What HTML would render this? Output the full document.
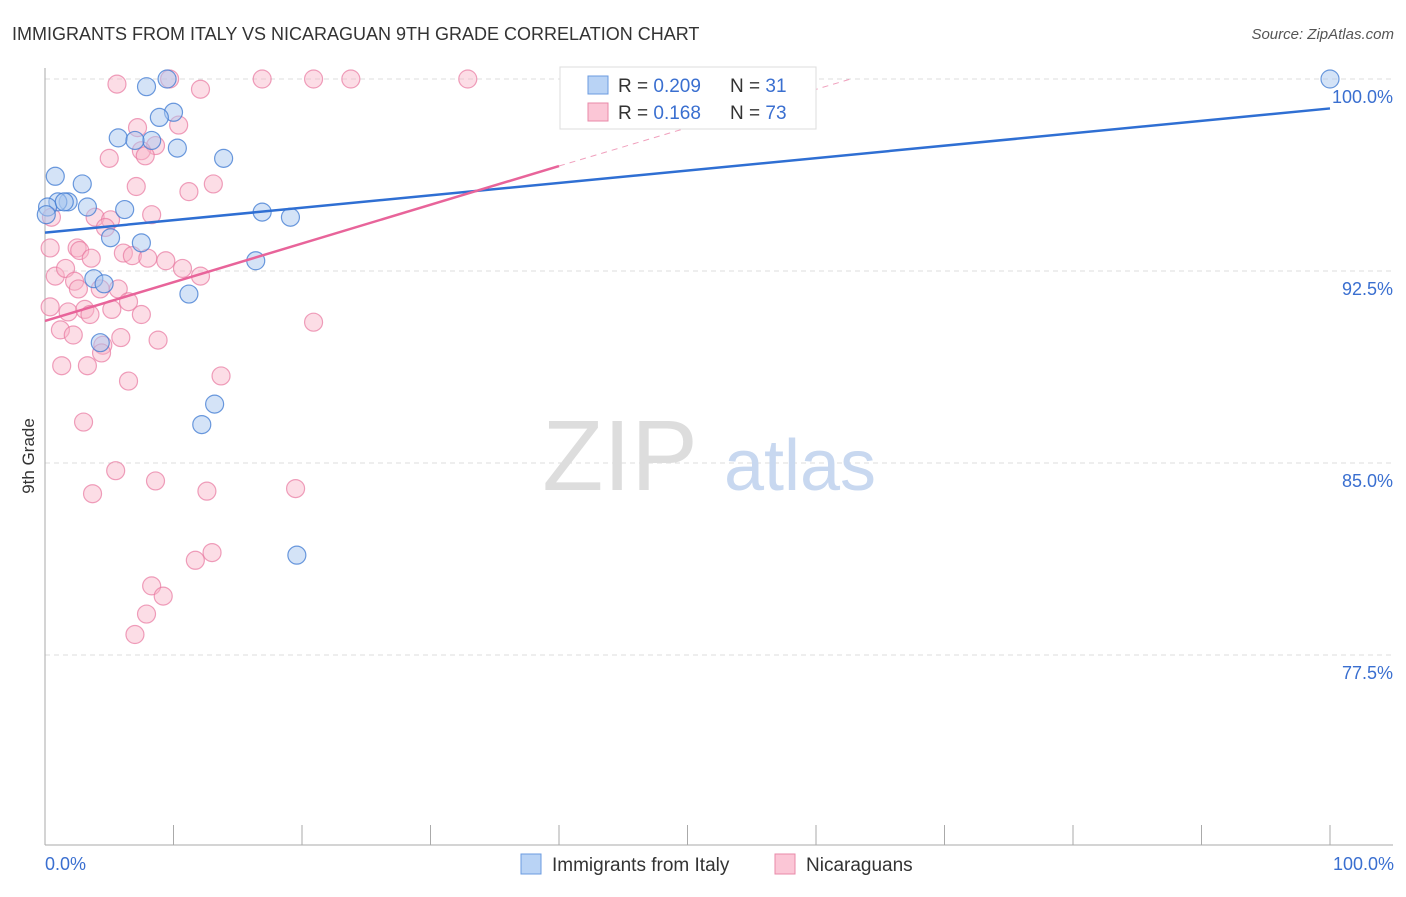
<!DOCTYPE html>
<html><head><meta charset="utf-8"><style>
body{margin:0;background:#fff;font-family:"Liberation Sans",sans-serif}
svg text{font-family:"Liberation Sans",sans-serif}
</style></head><body>
<svg width="1406" height="892" viewBox="0 0 1406 892">
<text x="12" y="40" font-size="18" fill="#333">IMMIGRANTS FROM ITALY VS NICARAGUAN 9TH GRADE CORRELATION CHART</text>
<text x="1394" y="39" font-size="15" fill="#555" text-anchor="end" font-style="italic">Source: ZipAtlas.com</text>
<g id="grid"></g>
<text x="620" y="490" font-size="100" fill="#ddd" font-family="Liberation Serif" text-anchor="middle">ZIP</text>
<text x="800" y="490" font-size="72" fill="#c8d8f0" text-anchor="middle">atlas</text>
<g id="ytick"></g>
<line x1="45" y1="68" x2="45" y2="845" stroke="#aaa"/>
<line x1="45" y1="845" x2="1393" y2="845" stroke="#aaa"/>
<g id="xt"></g>
<text x="45" y="870" font-size="18" fill="#3a6fd0">0.0%</text>
<text x="1394" y="870" font-size="18" fill="#3a6fd0" text-anchor="end">100.0%</text>
<text transform="translate(34,456) rotate(-90)" font-size="17" fill="#333" text-anchor="middle">9th Grade</text>
<g id="pts"></g>
<g id="lines"></g>
<g>
<rect x="560" y="67" width="256" height="62" fill="#fff" stroke="#ddd"/>
<rect x="588" y="76" width="20" height="18" fill="#b9d3f5" stroke="#6b9be0"/>
<rect x="588" y="103" width="20" height="18" fill="#fbc6d6" stroke="#e88aa8"/>
<text x="618" y="92" font-size="19" fill="#333">R = <tspan fill="#3a6fd0">0.209</tspan></text>
<text x="730" y="92" font-size="19" fill="#333">N = <tspan fill="#3a6fd0"> 31</tspan></text>
<text x="618" y="119" font-size="19" fill="#333">R = <tspan fill="#3a6fd0"> 0.168</tspan></text>
<text x="730" y="119" font-size="19" fill="#333">N = <tspan fill="#3a6fd0">73</tspan></text>
</g>
<g>
<rect x="521" y="854" width="20" height="20" fill="#b9d3f5" stroke="#6b9be0"/>
<text x="552" y="871" font-size="19" fill="#333">Immigrants from Italy</text>
<rect x="775" y="854" width="20" height="20" fill="#fbc6d6" stroke="#e88aa8"/>
<text x="806" y="871" font-size="19" fill="#333">Nicaraguans</text>
</g>
</svg>
<script>
const yTicks=[100,92.5,85,77.5];
const yTickLabels=["100.0%","92.5%","85.0%","77.5%"];
const blueX=[9.5,7.9,10.0,8.9,5.7,8.3,7.0,10.3,13.9,0.8,2.9,1.8,1.0,3.3,6.2,0.2,16.9,19.1,5.1,7.5,16.4,3.8,4.6,11.2,4.3,13.2,12.2,19.6,100,0.1,1.5];
const blueY=[100,99.7,98.7,98.5,97.7,97.6,97.6,97.3,96.9,96.2,95.9,95.2,95.2,95.0,94.9,95.0,94.8,94.6,93.8,93.6,92.9,92.2,92.0,91.6,89.7,87.3,86.5,81.4,100,94.7,95.2];
const pinkX=[5.6,9.7,12.1,16.9,20.9,23.8,32.9,10.4,7.2,8.6,7.5,7.8,5.0,7.1,11.2,13.1,0.5,3.9,5.1,4.7,8.3,0.4,2.5,2.7,3.6,6.1,6.8,8.0,9.4,10.7,12.1,0.8,1.6,2.3,2.6,4.3,5.7,0.4,1.8,3.1,3.5,5.2,6.5,7.5,20.9,1.2,2.2,5.9,8.8,4.5,4.4,1.3,3.3,6.5,13.7,3.0,5.5,3.7,8.6,12.6,19.5,13.0,11.7,8.3,9.2,7.9,7.0];
const pinkY=[99.8,100,99.6,100,100,100,100,98.2,98.1,97.4,97.2,97.0,96.9,95.8,95.6,95.9,94.6,94.6,94.5,94.2,94.7,93.4,93.4,93.3,93.0,93.2,93.1,93.0,92.9,92.6,92.3,92.3,92.6,92.1,91.8,91.8,91.8,91.1,90.9,91.0,90.8,91.0,91.3,90.8,90.5,90.2,90.0,89.9,89.8,89.6,89.3,88.8,88.8,88.2,88.4,86.6,84.7,83.8,84.3,83.9,84.0,81.5,81.2,80.2,79.8,79.1,78.3];
const X=v=>45+v*12.85, Y=v=>79+(100-v)*25.6;
const NS="http://www.w3.org/2000/svg";
function mk(t,a,p){const e=document.createElementNS(NS,t);for(const k in a)e.setAttribute(k,a[k]);document.getElementById(p).appendChild(e);return e;}
yTicks.forEach((t,i)=>{
 const l=mk('line',{x1:45,x2:1393,y1:Y(t),y2:Y(t),stroke:'#ddd','stroke-dasharray':'5,4'},'grid');
 
 
 const tx=mk('text',{x:1393,y:Y(t)+24,'font-size':18,fill:'#3a6fd0','text-anchor':'end'},'ytick');
 tx.textContent=yTickLabels[i];
 
 
});
for(let i=0;i<=10;i++){
 const l=mk('line',{x1:X(i*10),x2:X(i*10),y1:825,y2:845,stroke:'#aaa'},'xt');
 
 
}
pinkX.forEach((x,i)=>{
 const c=mk('circle',{cx:X(x),cy:Y(pinkY[i]),r:9,fill:'rgba(248,180,200,0.45)',stroke:'rgba(232,120,160,0.7)','stroke-width':1.2},'pts');
 
 
});
blueX.forEach((x,i)=>{
 const c=mk('circle',{cx:X(x),cy:Y(blueY[i]),r:9,fill:'rgba(170,200,240,0.5)',stroke:'rgba(60,120,210,0.75)','stroke-width':1.2},'pts');
 
 
});
let l=mk('line',{x1:X(0),y1:Y(94.0),x2:X(100),y2:Y(98.85),stroke:'#2f6fd3','stroke-width':2.5},'lines');


l=mk('line',{x1:X(0),y1:Y(90.55),x2:X(40),y2:Y(96.6),stroke:'#e8649a','stroke-width':2.5},'lines');


l=mk('line',{x1:X(40),y1:Y(96.6),x2:X(62.7),y2:Y(100),stroke:'#f0a0bd','stroke-width':1,'stroke-dasharray':'6,5'},'lines');


</script>
</body></html>
